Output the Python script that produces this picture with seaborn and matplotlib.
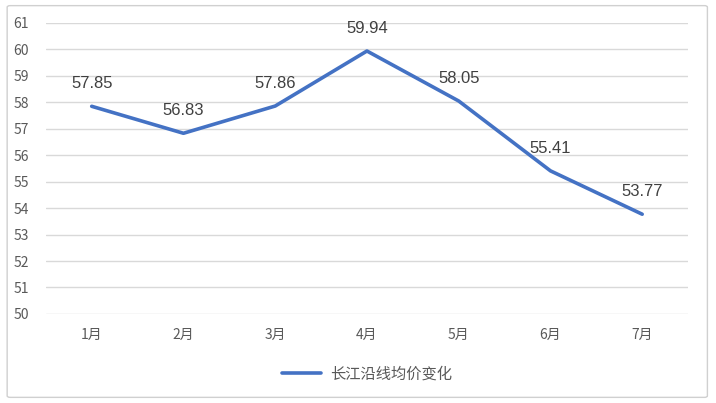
import matplotlib
matplotlib.use("Agg")
import matplotlib.pyplot as plt
import seaborn as sns
import pandas as pd
from matplotlib.patches import FancyBboxPatch

months = ["1月", "2月", "3月", "4月", "5月", "6月", "7月"]
prices = [57.85, 56.83, 57.86, 59.94, 58.05, 55.41, 53.77]
series_name = "长江沿线均价变化"
yticks = list(range(50, 62))

sns.set_theme(style="white")
plt.rcParams['font.family'] = ['Noto Sans CJK SC', 'DejaVu Sans']

df = pd.DataFrame({"month": months, "price": prices, "series": series_name})

fig = plt.figure(figsize=(7.16, 4.03), dpi=100)
ax = fig.add_axes([0.064, 0.221, 0.897, 0.722])

border = FancyBboxPatch((0.010, 0.014), 0.978, 0.972, boxstyle="round,pad=0,rounding_size=0.004",
                        transform=fig.transFigure, fill=False, edgecolor="#d0d0d0", linewidth=1.0)
fig.patches.append(border)

sns.lineplot(data=df, x="month", y="price", hue="series", palette=["#4472C4"],
             linewidth=2.6, sort=False, ax=ax)

for i, v in enumerate(prices):
    ax.annotate(f"{v:.2f}", (i, v), xytext=(0, 11), textcoords="offset points",
                ha="center", va="bottom", fontsize=12, color="#404040",
                family=['Liberation Sans', 'DejaVu Sans'])

ax.set_ylim(50, 61)
ax.set_yticks(yticks)
ax.set_xlim(-0.5, len(months) - 0.5)
ax.yaxis.grid(True, color="#d9d9d9", linewidth=1.0)
ax.xaxis.grid(False)
for s in ax.spines.values():
    s.set_visible(False)
ax.tick_params(axis="both", length=0, labelsize=10, colors="#595959")
ax.tick_params(axis="x", pad=10)
ax.tick_params(axis="y", pad=12)
ax.set_xlabel("")
ax.set_ylabel("")

leg = ax.legend(loc="upper center", bbox_to_anchor=(0.5, -0.13), frameon=False,
                fontsize=11, handlelength=2.6, handletextpad=0.6)
for t in leg.get_texts():
    t.set_color("#595959")

fig.savefig("out.png", dpi=100)
